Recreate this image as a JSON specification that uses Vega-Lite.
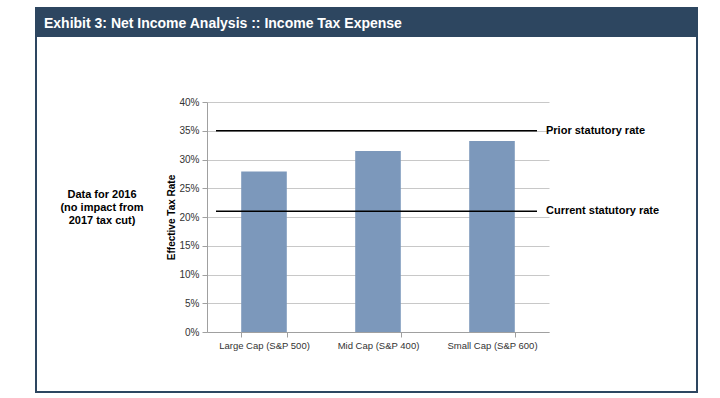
{
  "$schema": "https://vega.github.io/schema/vega-lite/v6.json",
  "width": 342,
  "height": 230,
  "autosize": {"type": "none"},
  "padding": {"left": 207, "top": 102, "right": 171, "bottom": 66},
  "background": "white",
  "config": {"view": {"stroke": null}, "font": "Liberation Sans"},
  "datasets": {
    "bars": [
      {"category": "Large Cap (S&P 500)", "rate": 0.279},
      {"category": "Mid Cap (S&P 400)", "rate": 0.315},
      {"category": "Small Cap (S&P 600)", "rate": 0.332}
    ],
    "rules": [
      {"label": "Prior statutory rate", "rate": 0.35},
      {"label": "Current statutory rate", "rate": 0.21}
    ],
    "header": [{"text": "Exhibit 3: Net Income Analysis :: Income Tax Expense"}],
    "note": [{"text": ["Data for 2016", "(no impact from", "2017 tax cut)"]}]
  },
  "encoding": {
    "y": {
      "field": "rate", "type": "quantitative",
      "scale": {"domain": [0, 0.4]},
      "axis": {
        "title": "Effective  Tax Rate", "titleFontSize": 10, "titleFontWeight": "bold", "titleColor": "black",
        "titlePadding": 2,
        "values": [0, 0.05, 0.1, 0.15, 0.2, 0.25, 0.3, 0.35, 0.4],
        "labelOverlap": false,
        "format": ".0%", "labelFontSize": 10, "labelColor": "#333333", "labelPadding": 3,
        "domainColor": "#a0a0a0", "tickColor": "#a0a0a0", "tickSize": 5,
        "grid": true, "gridColor": "#c8c8c8"
      }
    }
  },
  "layer": [
    {
      "data": {"name": "header"},
      "mark": {"type": "rect", "fill": "transparent", "stroke": "#2d4660", "strokeWidth": 2},
      "encoding": {
        "x": {"value": -171}, "x2": {"value": 490},
        "y": {"value": -94}, "y2": {"value": 290}
      }
    },
    {
      "data": {"name": "header"},
      "mark": {"type": "rect", "fill": "#2d4660"},
      "encoding": {
        "x": {"value": -172}, "x2": {"value": 491},
        "y": {"value": -95}, "y2": {"value": -65}
      }
    },
    {
      "data": {"name": "header"},
      "mark": {"type": "text", "align": "left", "baseline": "alphabetic", "color": "white", "fontSize": 14, "fontWeight": "bold"},
      "encoding": {
        "x": {"value": -163}, "y": {"value": -74},
        "text": {"field": "text"}
      }
    },
    {
      "data": {"name": "note"},
      "mark": {"type": "text", "align": "center", "baseline": "middle", "fontSize": 11, "fontWeight": "bold", "lineHeight": 13, "color": "black"},
      "encoding": {
        "x": {"value": -105}, "y": {"value": 93},
        "text": {"field": "text"}
      }
    },
    {
      "data": {"name": "bars"},
      "mark": {"type": "bar", "color": "#7c98bb"},
      "encoding": {
        "x": {
          "field": "category", "type": "nominal", "sort": null,
          "scale": {"paddingInner": 0.6, "paddingOuter": 0.3},
          "axis": {
            "title": null, "labelAngle": 0, "labelFontSize": 9.5, "labelColor": "#333333",
            "domainColor": "#a0a0a0", "tickColor": "#a0a0a0", "tickSize": 5, "tickBand": "extent",
            "labelPadding": 3, "grid": false
          }
        }
      }
    },
    {
      "data": {"name": "rules"},
      "mark": {"type": "rule", "color": "black", "strokeWidth": 1.5},
      "encoding": {
        "x": {"value": 9}, "x2": {"value": 330}
      }
    },
    {
      "data": {"name": "rules"},
      "mark": {"type": "text", "align": "left", "baseline": "middle", "fontSize": 11, "fontWeight": "bold", "color": "black"},
      "encoding": {
        "x": {"value": 339},
        "text": {"field": "label"}
      }
    }
  ]
}
